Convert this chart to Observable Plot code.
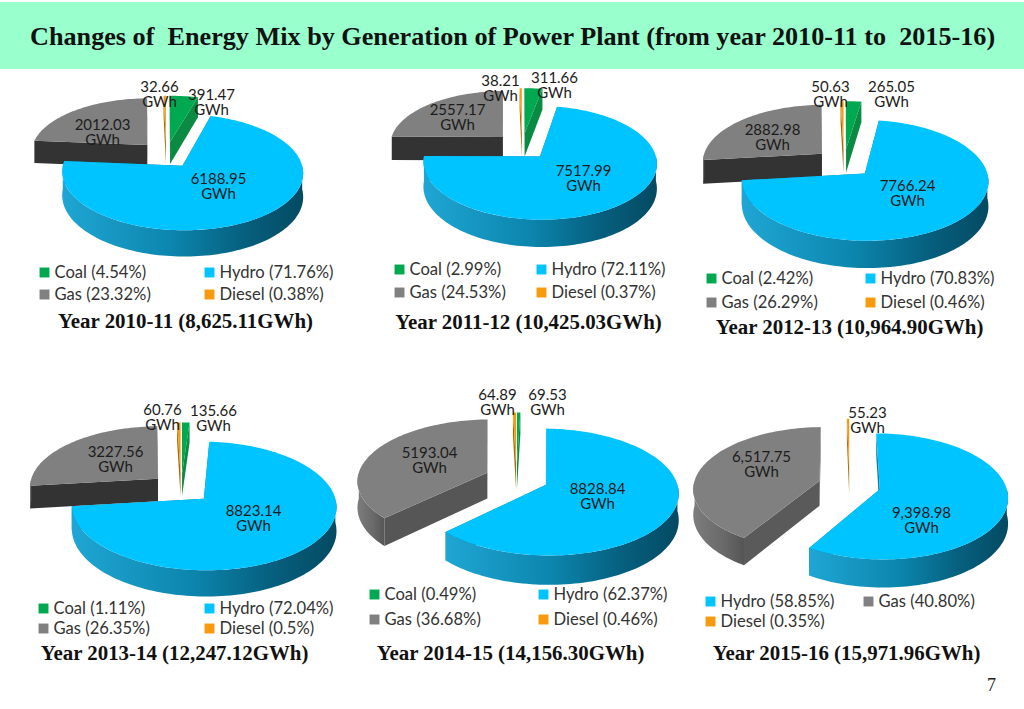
<!DOCTYPE html>
<html>
<head>
<meta charset="utf-8">
<script src="https://cdn.jsdelivr.net/npm/d3@7"></script>
<script src="https://cdn.jsdelivr.net/npm/@observablehq/plot@0.6"></script>
<style>
  html, body { margin: 0; padding: 0; background: #fff; }
  #band { margin-top: 2px; height: 67px; background: #99ffcc; box-sizing: border-box;
          padding: 20px 0 0 30px; font: bold 26.2px "Liberation Serif", serif; color: #111; white-space: pre; }
  svg { display: block; }
</style>
</head>
<body>
<div id="band">Changes of  Energy Mix by Generation of Power Plant (from year 2010-11 to  2015-16)</div>
<div id="chart"></div>
<script>
// ---- data ----
const years  = ["2010-11", "2011-12", "2012-13", "2013-14", "2014-15", "2015-16"];
const totals = ["8,625.11", "10,425.03", "10,964.90", "12,247.12", "14,156.30", "15,971.96"];
const coal   = [391.47, 311.66, 265.05, 135.66, 69.53, 0];
const hydro  = [6188.95, 7517.99, 7766.24, 8823.14, 8828.84, 9398.98];
const gas    = [2012.03, 2557.17, 2882.98, 3227.56, 5193.04, 6517.75];
const diesel = [32.66, 38.21, 50.63, 60.76, 64.89, 55.23];
const coalShare   = ["4.54%", "2.99%", "2.42%", "1.11%", "0.49%", null];
const hydroShare  = ["71.76%", "72.11%", "70.83%", "72.04%", "62.37%", "58.85%"];
const gasShare    = ["23.32%", "24.53%", "26.29%", "26.35%", "36.68%", "40.80%"];
const dieselShare = ["0.38%", "0.37%", "0.46%", "0.5%", "0.46%", "0.35%"];

// ---- layout of each pie ----
const centerX = [165.7, 521.6, 843.4, 180.5, 516, 849];
const centerY = [154, 145.5, 162.5, 487.7, 478, 484.4];
const radiusX = [117, 113.5, 120, 129, 130, 126];
const radiusY = [55.5, 54.5, 58, 62, 62, 62];
const explode = [0.24, 0.242, 0.247, 0.24, 0.245, 0.248];
const depth   = [23, 24, 24, 23, 26, 25];
const perspective = 0.117;
const gasWall = ["#333333", "#333333", "#333333", "#333333", "#565656", "#5a5a5a"];

const labelAt = {
  Coal:   [[211, 102], [554, 85.5], [891, 94], [213, 418.5], [547, 402.5], null],
  Hydro:  [[218, 186.5], [583, 178], [907, 193.5], [253, 518.5], [597, 496], [921, 520]],
  Gas:    [[102, 132.5], [457, 117.5], [772, 137.5], [115, 459.5], [429, 460.5], [761, 464.5]],
  Diesel: [[159, 94], [500, 88], [830, 94], [162, 417.5], [497, 402.5], [867, 420]]
};
const legendX = {
  Coal:   [44, 399, 711, 43, 374, null],
  Gas:    [44, 399, 711, 43, 374, 868],
  Hydro:  [209, 541, 870, 209, 543, 710],
  Diesel: [209, 541, 870, 209, 543, 710]
};
const legendY = {
  Coal:   [272, 269, 278, 608, 594, null],
  Gas:    [294, 292, 302, 628, 619, 601],
  Hydro:  [272, 269, 278, 608, 594, 601],
  Diesel: [294, 292, 302, 628, 619, 621]
};
const captionX = [185, 528, 849, 174, 510, 846];
const captionY = [321, 322, 327, 653, 653, 653];

const topColor  = {Coal: "#00a850", Hydro: "#00c4ff", Gas: "#808080", Diesel: "#f79a0e"};
const sideColor = {Coal: "#0a8a42", Hydro: "#0a7fa6", Gas: "#5f5f5f", Diesel: "#a8690c"};
const seriesNames = ["Coal", "Hydro", "Gas", "Diesel"];
const seriesValues = {Coal: coal, Hydro: hydro, Gas: gas, Diesel: diesel};
const seriesShares = {Coal: coalShare, Hydro: hydroShare, Gas: gasShare, Diesel: dieselShare};

// ---- build slice outlines from the values ----
const polygons = [];
const labels = [];
const legendRows = [];
const captions = [];

years.forEach((year, i) => {
  const project = (angle, mid, drop) => {
    const U = explode[i] * Math.sin(mid) + Math.sin(angle);
    const V = -explode[i] * Math.cos(mid) - Math.cos(angle);
    const s = 1 + perspective * V;
    return [centerX[i] + radiusX[i] * U * s, centerY[i] + radiusY[i] * V * s + drop * s];
  };
  const hub = (mid, drop) => {
    const U = explode[i] * Math.sin(mid), V = -explode[i] * Math.cos(mid);
    const s = 1 + perspective * V;
    return [centerX[i] + radiusX[i] * U * s, centerY[i] + radiusY[i] * V * s + drop * s];
  };
  const present = seriesNames.filter(n => seriesValues[n][i] > 0);
  const arcs = d3.pie().sort(null).value(n => seriesValues[n][i])(present);
  const d = depth[i];
  for (const name of ["Gas", "Diesel", "Coal", "Hydro"]) {
    const arc = arcs.find(a => a.data === name);
    if (!arc) continue;
    const a0 = arc.startAngle, a1 = arc.endAngle, mid = (a0 + a1) / 2;
    const sample = (from, to) => {
      const n = Math.max(2, Math.ceil((to - from) / 0.03));
      return d3.range(n + 1).map(k => from + (to - from) * k / n);
    };
    const topArc = sample(a0, a1).map(a => project(a, mid, 0));
    const wall = name === "Gas" ? gasWall[i] : sideColor[name];
    polygons.push({fill: wall, pts: [hub(mid, 0), project(a0, mid, 0), project(a0, mid, d), hub(mid, d)]});
    polygons.push({fill: wall, pts: [hub(mid, 0), project(a1, mid, 0), project(a1, mid, d), hub(mid, d)]});
    // only the near half of the rim faces the viewer
    const w0 = Math.max(a0, Math.PI / 2), w1 = Math.min(a1, 3 * Math.PI / 2);
    if (w1 > w0) {
      const rim = sample(w0, w1);
      const outer = name === "Hydro" ? "url(#hydroSide)" : name === "Gas" ? "url(#gasSide)" : sideColor[name];
      polygons.push({fill: outer, pts: [...rim.map(a => project(a, mid, 0)), ...rim.slice().reverse().map(a => project(a, mid, d))]});
    }
    polygons.push({fill: topColor[name], pts: [hub(mid, 0), ...topArc]});

    const fmt = i === 5 ? d3.format(",.2f") : d3.format(".2f");
    const txt = fmt(seriesValues[name][i]);
    if (labelAt[name][i]) {
      labels.push({x: labelAt[name][i][0], y: labelAt[name][i][1], text: `${txt}\nGWh`});
    }
    legendRows.push({x: legendX[name][i], y: legendY[name][i], fill: topColor[name],
                     text: `${name} (${seriesShares[name][i]})`});
  }
  captions.push({x: captionX[i], y: captionY[i], text: `Year ${year} (${totals[i]}GWh)`});
});

const gradients = () => {
  const defs = d3.create("svg:defs");
  const add = (id, stops) => {
    const g = defs.append("linearGradient").attr("id", id);
    stops.forEach(([o, c]) => g.append("stop").attr("offset", o).attr("stop-color", c));
  };
  add("hydroSide", [[0, "#1fa6d4"], [0.45, "#0c86ae"], [0.75, "#06607f"], [1, "#044a62"]]);
  add("gasSide", [[0, "#7d7d7d"], [0.6, "#696969"], [1, "#555555"]]);
  return defs.node();
};

const sliceMarks = polygons.map(p =>
  Plot.line(p.pts, {x: d => d[0], y: d => d[1], fill: p.fill, stroke: "none", curve: "linear"})
);

const plot = Plot.plot({
  width: 1024,
  height: 640,
  margin: 0,
  x: {domain: [0, 1024], range: [0, 1024], axis: null},
  y: {domain: [69, 709], range: [0, 640], axis: null},
  style: {background: "#fff", overflow: "visible"},
  marks: [
    gradients,
    ...sliceMarks,
    Plot.text(labels, {x: "x", y: "y", text: "text", fill: "#1c1c1c", stroke: "none",
      fontFamily: "Lato", fontSize: 15, lineHeight: 1.0, textAnchor: "middle", lineAnchor: "middle"}),
    Plot.dot(legendRows, {x: "x", y: "y", symbol: "square", r: 5.6, fill: "fill", stroke: "none"}),
    Plot.text(legendRows, {x: d => d.x + 10, y: "y", text: "text", fill: "#333333", stroke: "none",
      fontFamily: "Lato", fontSize: 16.6, textAnchor: "start", lineAnchor: "middle"}),
    Plot.text(captions, {x: "x", y: "y", text: "text", fill: "#111111", stroke: "none",
      fontFamily: "Liberation Serif", fontWeight: "bold", fontSize: 20.9, textAnchor: "middle", lineAnchor: "middle"}),
    Plot.text(["7"], {x: () => 991, y: () => 685, text: d => d, fill: "#222", stroke: "none",
      fontFamily: "Liberation Serif", fontSize: 18, textAnchor: "middle", lineAnchor: "middle"})
  ]
});
document.getElementById("chart").appendChild(plot);
</script>
</body>
</html>
